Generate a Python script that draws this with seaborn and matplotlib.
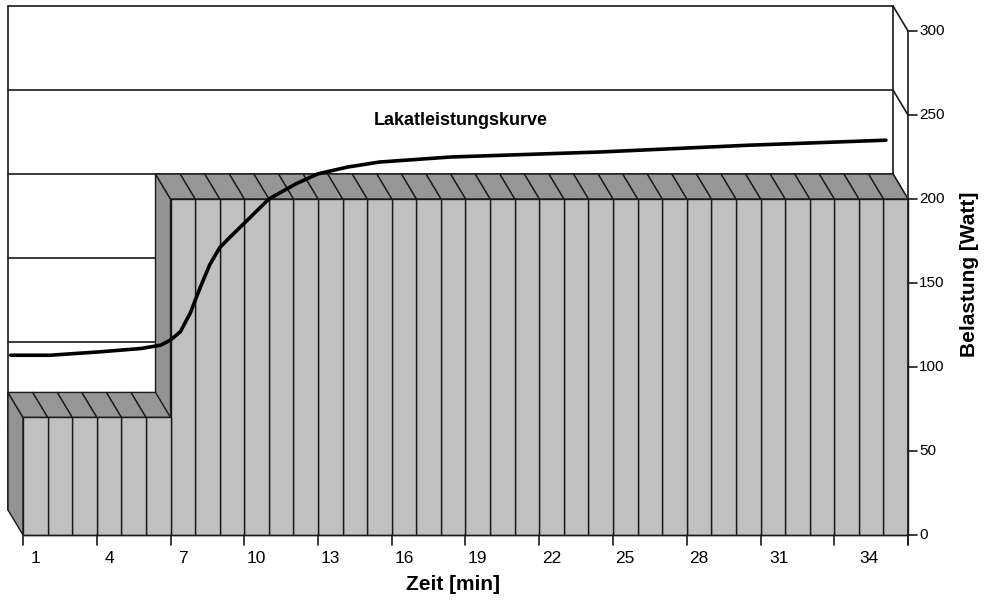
import numpy as np
import pandas as pd
import matplotlib
matplotlib.use("Agg")
import matplotlib.pyplot as plt
import seaborn as sns

# ---------------- data ----------------
minutes = list(range(1, 37))
belastung = [70] * 6 + [200] * 30

curve_t = [0.0, 1.6, 3.6, 5.3, 6.1, 6.5, 6.9, 7.3, 7.7, 8.1, 8.5, 8.9, 9.6,
           10.5, 11.6, 12.5, 13.7, 15.0, 17.9, 24.0, 30.0, 35.6]
curve_w = [107, 107, 109, 111, 113, 116, 121, 132, 147, 161, 171, 177, 187,
           200, 209, 215, 219, 222, 225, 228, 232, 235]
curve_label = "Lakatleistungskurve"

x_tick_labels = ["1", "4", "7", "10", "13", "16", "19", "22", "25", "28", "31", "34"]
x_label_pos = [1, 4, 7, 10, 13, 16, 19, 22, 25, 28, 31.25, 34.9]
y_ticks = [0, 50, 100, 150, 200, 250, 300]
x_title = "Zeit [min]"
y_title = "Belastung [Watt]"

# ---------------- style ----------------
sns.set_style("white")
plt.rcParams["font.family"] = ["Liberation Sans", "DejaVu Sans"]
plt.rcParams["text.color"] = "black"

FRONT = "#c0c0c0"
TOP = "#969696"
SIDE = "#939393"
EDGE = "#1a1a1a"

W, H = 987, 603
fig = plt.figure(figsize=(W / 100, H / 100), dpi=100)
ax = fig.add_axes([0, 0, 1, 1])

# pixel geometry -> data limits
px_per_bar = 885 / 36.0
px_per_w = 504 / 300.0
x0_px, y0_px = 23, 535
xlim = (0.5 - x0_px / px_per_bar, 0.5 + (W - x0_px) / px_per_bar)
ylim = ((y0_px - H) / px_per_w, y0_px / px_per_w)

dx = -15 / px_per_bar     # depth offset (x, data units)
dy = 25 / px_per_w        # depth offset (y, data units)

left_edge = 0.5
right_edge = 36.5

# ---------------- back wall ----------------
bx0, bx1 = left_edge + dx, right_edge + dx
ax.fill([bx0, bx1, bx1, bx0], [dy, dy, 300 + dy, 300 + dy],
        facecolor="white", edgecolor="none", zorder=1)
for v in y_ticks[1:]:
    ax.plot([bx0, bx1], [v + dy, v + dy], color=EDGE, lw=1.2, zorder=2)
ax.plot([bx0, bx0], [dy, 300 + dy], color=EDGE, lw=1.2, zorder=2)
ax.plot([bx1, bx1], [dy, 300 + dy], color=EDGE, lw=1.2, zorder=2)
for v in y_ticks:
    ax.plot([bx1, right_edge], [v + dy, v], color=EDGE, lw=1.2, zorder=2)

# ---------------- bars (front faces via seaborn) ----------------
df = pd.DataFrame({"Zeit": minutes, "Belastung": belastung})
sns.barplot(data=df, x="Zeit", y="Belastung", native_scale=True, width=1,
            color=FRONT, saturation=1, edgecolor=EDGE, linewidth=1.0,
            errorbar=None, ax=ax)

bars = sorted([p for p in ax.patches if isinstance(p, matplotlib.patches.Rectangle)
               and p.get_height() > 0], key=lambda p: p.get_x())
n = len(bars)
for i, p in enumerate(bars):
    base = 10 + (n - i) * 3
    p.set_facecolor(FRONT)
    p.set_zorder(base + 2)
    xa = p.get_x()
    xb = xa + p.get_width()
    h = p.get_height()
    # left side face
    ax.fill([xa, xa, xa + dx, xa + dx], [0, h, h + dy, dy],
            facecolor=SIDE, edgecolor=EDGE, lw=1.0, zorder=base)
    # top face
    ax.fill([xa, xb, xb + dx, xa + dx], [h, h, h + dy, h + dy],
            facecolor=TOP, edgecolor=EDGE, lw=1.0, zorder=base + 1)

# ---------------- curve ----------------
sns.lineplot(x=curve_t, y=curve_w, color="black", linewidth=2.6, ax=ax,
             zorder=300, sort=True)
ax.text(18.3, 247, curve_label, fontsize=13, fontweight="bold", color="black",
        ha="center", va="center", zorder=301)

# ---------------- axes ----------------
top_z = 400
tick_len_y = 0.36
ax.plot([right_edge, right_edge], [-6, 300], color=EDGE, lw=1.2, zorder=top_z)
for v in y_ticks:
    ax.plot([right_edge, right_edge + tick_len_y], [v, v], color=EDGE, lw=1.2, zorder=top_z)
    ax.text(right_edge + tick_len_y + 0.1, v, str(v), fontsize=11, color="black",
            ha="left", va="center", zorder=top_z)

ax.plot([left_edge, right_edge], [0, 0], color=EDGE, lw=1.0, zorder=top_z)
for b in np.arange(left_edge, right_edge + 0.01, 3):
    ax.plot([b, b], [0, -6], color=EDGE, lw=1.2, zorder=top_z)
for lab, pos in zip(x_tick_labels, x_label_pos):
    ax.text(pos, -13.7, lab, fontsize=12.5, color="black",
            ha="center", va="center", zorder=top_z)

ax.text(18.0, -29.5, x_title, fontsize=15, fontweight="bold", color="black",
        ha="center", va="center")
ax.text(39.0, 155, y_title, fontsize=15, fontweight="bold", color="black",
        ha="center", va="center", rotation=90)

ax.set_xlim(*xlim)
ax.set_ylim(*ylim)
ax.set_axis_off()
if ax.get_legend() is not None:
    ax.get_legend().remove()

fig.savefig("out.png", dpi=100)
